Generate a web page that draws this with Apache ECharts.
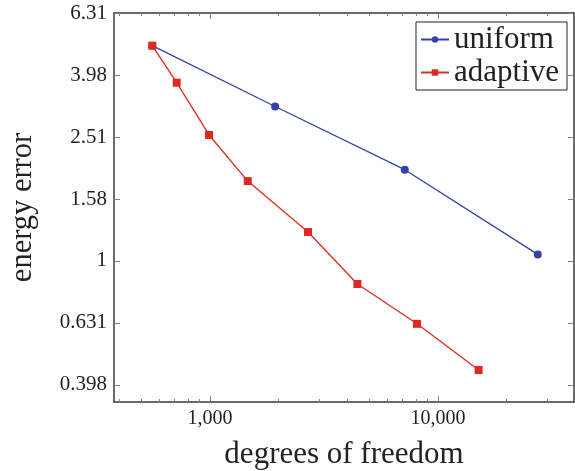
<!DOCTYPE html>
<html>
<head>
<meta charset="utf-8">
<script src="https://cdn.jsdelivr.net/npm/echarts@6/dist/echarts.min.js"></script>
<style>html,body{margin:0;padding:0;background:#fff}#c{width:575px;height:471px}</style>
</head>
<body>
<div id="c"></div>
<script>
// Data (log-log)
const uniformDofs = [558, 1930, 7150, 27400];
const uniformErr = [4.95, 3.15, 1.97, 1.05];
const adaptiveDofs = [558, 714, 990, 1463, 2690, 4430, 8090, 15070];
const adaptiveErr = [4.95, 3.76, 2.55, 1.81, 1.24, 0.843, 0.627, 0.445];
const xMajorTicks = [1000, 10000];
const xMinorTicks = [400, 500, 600, 700, 800, 900, 2000, 3000, 4000, 5000, 6000, 7000, 8000, 9000, 20000, 30000];
const yTicks = [0.3981, 0.6310, 1, 1.5849, 2.5119, 3.9811, 6.3096];
const seriesNames = ['uniform', 'adaptive'];

const FONT = '"Liberation Serif", "DejaVu Serif", serif';
const X_MIN = 379, X_MAX = 39500;
const Y_MIN = 0.3508, Y_MAX = 6.3098;
const AXIS_COLOR = '#3a3a3a';
const TICK_COLOR = '#808080';

function xAxisCfg(pos, ticks, len, showLine, showLabel) {
  return {
    type: 'log', logBase: 10, position: pos, min: X_MIN, max: X_MAX,
    axisLine: {show: showLine, lineStyle: {color: AXIS_COLOR, width: 1.5}},
    axisTick: {show: true, inside: true, length: len, customValues: ticks, lineStyle: {color: TICK_COLOR, width: 1}},
    axisLabel: {show: showLabel, customValues: xMajorTicks, margin: 7, fontFamily: FONT, fontSize: 20, color: '#222',
      formatter: v => Math.round(v).toLocaleString('en-US')},
    splitLine: {show: false},
    minorTick: {show: false}
  };
}
function yAxisCfg(pos, showLabel) {
  return {
    type: 'log', logBase: 10, position: pos, min: Y_MIN, max: Y_MAX,
    axisLine: {show: true, lineStyle: {color: AXIS_COLOR, width: 1.5}},
    axisTick: {show: true, inside: true, length: 6, customValues: yTicks, lineStyle: {color: TICK_COLOR, width: 1}},
    axisLabel: {show: showLabel, customValues: yTicks, margin: 7, fontFamily: FONT, fontSize: 21, color: '#222',
      formatter: v => String(Number(v.toPrecision(3)))},
    splitLine: {show: false}
  };
}

const xAxes = [
  Object.assign(xAxisCfg('bottom', xMajorTicks, 6, true, true), {
    name: 'degrees of freedom', nameLocation: 'middle', nameGap: 37,
    nameTextStyle: {fontFamily: FONT, fontSize: 31, color: '#222'}
  }),
  xAxisCfg('bottom', xMinorTicks, 3, false, false),
  xAxisCfg('top', xMajorTicks, 6, true, false),
  xAxisCfg('top', xMinorTicks, 3, false, false)
];
const yAxes = [
  Object.assign(yAxisCfg('left', true), {
    name: 'energy error', nameLocation: 'middle', nameGap: 76, nameRotate: 90,
    nameTextStyle: {fontFamily: FONT, fontSize: 30.5, color: '#222'}
  }),
  yAxisCfg('right', false)
];

const chart = echarts.init(document.getElementById('c'), null, {renderer: 'canvas'});
chart.setOption({
  animation: false,
  backgroundColor: '#fff',
  grid: {left: 114, right: 1, top: 13, bottom: 69, containLabel: false, outerBoundsMode: 'none'},
  xAxis: xAxes,
  yAxis: yAxes,
  legend: {
    data: seriesNames,
    orient: 'vertical', right: 8, top: 22,
    borderColor: '#222', borderWidth: 1, borderRadius: 0,
    padding: [2, 8, 2, 4], itemGap: 2,
    itemWidth: 28, itemHeight: 8,
    textStyle: {fontFamily: FONT, fontSize: 31, color: '#222'},
    backgroundColor: '#fff'
  },
  series: [
    {
      name: seriesNames[0], type: 'line', xAxisIndex: 0, yAxisIndex: 0,
      data: uniformDofs.map((x, i) => [x, uniformErr[i]]),
      symbol: 'circle', symbolSize: 8,
      lineStyle: {color: '#3342a8', width: 1.3},
      itemStyle: {color: '#3342a8'}
    },
    {
      name: seriesNames[1], type: 'line', xAxisIndex: 0, yAxisIndex: 0,
      data: adaptiveDofs.map((x, i) => [x, adaptiveErr[i]]),
      symbol: 'rect', symbolSize: 8,
      lineStyle: {color: '#dd2a20', width: 1.3},
      itemStyle: {color: '#dd2a20'}
    }
  ]
});
</script>
</body>
</html>
